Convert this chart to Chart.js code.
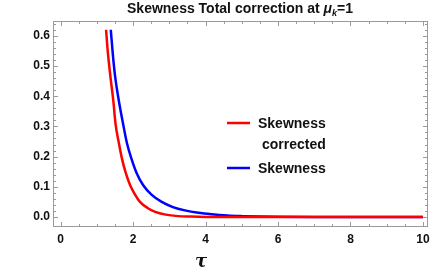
<!DOCTYPE html>
<html>
<head>
<meta charset="utf-8">
<script src="https://cdn.jsdelivr.net/npm/chart.js@4"></script>
<style>
  html, body { margin: 0; padding: 0; background: #fff; }
  #wrap { width: 436px; height: 273px; }
</style>
</head>
<body>
<div id="wrap"><canvas id="chart" width="436" height="273"></canvas></div>
<script>
// values
const tauCorrected = [1.255, 1.30, 1.37, 1.45, 1.52, 1.60, 1.69, 1.80, 1.92, 2.05, 2.19, 2.40, 2.61, 2.90, 3.24, 3.60, 4.00, 5.00, 6, 7, 8, 9, 10];
const skewCorrected = [0.62, 0.55, 0.47, 0.39, 0.305, 0.25, 0.195, 0.145, 0.105, 0.075, 0.05, 0.03, 0.017, 0.008, 0.003, 0.0015, 0.0005, 0.0001, 0, 0, 0, 0, 0];
const tauSkew = [1.385, 1.44, 1.50, 1.60, 1.73, 1.83, 1.95, 2.10, 2.28, 2.50, 2.79, 3.10, 3.43, 3.80, 4.17, 4.60, 5.00, 5.50, 6, 7, 8, 9, 10];
const skewValues = [0.62, 0.54, 0.47, 0.39, 0.305, 0.245, 0.195, 0.145, 0.105, 0.075, 0.05, 0.033, 0.022, 0.014, 0.009, 0.005, 0.003, 0.0015, 0.0008, 0.0002, 0, 0, 0];
const xTicks = [0, 2, 4, 6, 8, 10];
const yTicks = [0.0, 0.1, 0.2, 0.3, 0.4, 0.5, 0.6];
const seriesNames = ['Skewness corrected', 'Skewness'];

const toPoints = (xs, ys) => xs.map((x, i) => ({ x: x, y: ys[i] }));

const fontFam = '"Liberation Sans", Arial, sans-serif';

// frame + mathematica style ticks, title, axis label and legend
const decor = {
  id: 'decor',
  afterDraw(c) {
    const ctx = c.ctx;
    const a = c.chartArea;
    const xs = c.scales.x, ys = c.scales.y;
    ctx.save();
    ctx.strokeStyle = '#9a9a9a';
    ctx.lineWidth = 1;
    ctx.strokeRect(a.left + 0.5, a.top + 0.5, a.right - a.left - 1, a.bottom - a.top - 1);

    ctx.beginPath();
    for (let i = 0; i <= 20; i++) {
      const v = i * 0.5;
      const px = Math.round(xs.getPixelForValue(v)) + 0.5;
      const len = (i % 4 === 0) ? 5 : 3;
      ctx.moveTo(px, a.bottom); ctx.lineTo(px, a.bottom - len);
      ctx.moveTo(px, a.top); ctx.lineTo(px, a.top + len);
    }
    for (let i = 0; i <= 32; i++) {
      const v = i * 0.02;
      const py = Math.round(ys.getPixelForValue(v)) + 0.5;
      const len = (i % 5 === 0) ? 5 : 3;
      ctx.moveTo(a.left, py); ctx.lineTo(a.left + len, py);
      ctx.moveTo(a.right, py); ctx.lineTo(a.right - len, py);
    }
    ctx.stroke();

    // title
    ctx.fillStyle = '#111';
    ctx.textBaseline = 'alphabetic';
    const t1 = 'Skewness Total correction at ';
    ctx.font = 'bold 14px ' + fontFam;
    const w1 = ctx.measureText(t1).width;
    ctx.font = 'bold italic 14px ' + fontFam;
    const wMu = ctx.measureText('μ').width;
    ctx.font = 'bold italic 9px ' + fontFam;
    const wK = ctx.measureText('k').width;
    ctx.font = 'bold 14px ' + fontFam;
    const wEq = ctx.measureText('=1').width;
    let tx = 240 - (w1 + wMu + wK + wEq) / 2;
    const ty = 13;
    ctx.textAlign = 'left';
    ctx.fillText(t1, tx, ty); tx += w1;
    ctx.font = 'bold italic 14px ' + fontFam;
    ctx.fillText('μ', tx, ty); tx += wMu;
    ctx.font = 'bold italic 9px ' + fontFam;
    ctx.fillText('k', tx, ty + 3); tx += wK;
    ctx.font = 'bold 14px ' + fontFam;
    ctx.fillText('=1', tx, ty);

    // axis label
    ctx.font = 'bold italic 18px "DejaVu Serif", serif';
    ctx.textAlign = 'center';
    ctx.fillText('τ', 201, 267);

    // legend
    const ds = c.data.datasets;
    ctx.font = 'bold 14px ' + fontFam;
    ctx.textAlign = 'left';
    ctx.lineWidth = 2.5;
    ctx.strokeStyle = ds[0].borderColor;
    ctx.beginPath(); ctx.moveTo(227, 123); ctx.lineTo(250, 123); ctx.stroke();
    ctx.fillText('Skewness', 258, 128);
    ctx.fillText('corrected', 262, 149);
    ctx.strokeStyle = ds[1].borderColor;
    ctx.beginPath(); ctx.moveTo(227, 168); ctx.lineTo(250, 168); ctx.stroke();
    ctx.fillText(seriesNames[1], 258, 173);
    ctx.restore();
  }
};

const chart = new Chart(document.getElementById('chart').getContext('2d'), {
  type: 'line',
  data: {
    datasets: [
      {
        label: seriesNames[0],
        data: toPoints(tauCorrected, skewCorrected),
        borderColor: '#ff0000',
        borderWidth: 2.5,
        pointRadius: 0,
        cubicInterpolationMode: 'monotone',
        fill: false
      },
      {
        label: seriesNames[1],
        data: toPoints(tauSkew, skewValues),
        borderColor: '#0000ff',
        borderWidth: 2.5,
        pointRadius: 0,
        cubicInterpolationMode: 'monotone',
        fill: false
      }
    ]
  },
  options: {
    responsive: false,
    animation: false,
    layout: { padding: { left: 0, right: 8, top: 21, bottom: 0 } },
    plugins: { legend: { display: false }, title: { display: false }, tooltip: { enabled: false } },
    scales: {
      x: {
        type: 'linear',
        min: -0.21,
        max: 10.14,
        afterBuildTicks: s => { s.ticks = xTicks.map(v => ({ value: v })); },
        afterFit: s => { s.height = 46; },
        grid: { display: false, drawTicks: false, tickLength: 0 },
        border: { display: false },
        ticks: {
          padding: 5,
          color: '#111',
          font: { family: fontFam, size: 12, weight: 'bold' },
          callback: v => String(v)
        }
      },
      y: {
        type: 'linear',
        min: -0.033,
        max: 0.649,
        afterBuildTicks: s => { s.ticks = yTicks.map(v => ({ value: v })); },
        afterFit: s => { s.width = 53; },
        grid: { display: false, drawTicks: false, tickLength: 0 },
        border: { display: false },
        ticks: {
          padding: 3,
          color: '#111',
          font: { family: fontFam, size: 12, weight: 'bold' },
          callback: v => v.toFixed(1)
        }
      }
    }
  },
  plugins: [decor]
});
</script>
</body>
</html>
